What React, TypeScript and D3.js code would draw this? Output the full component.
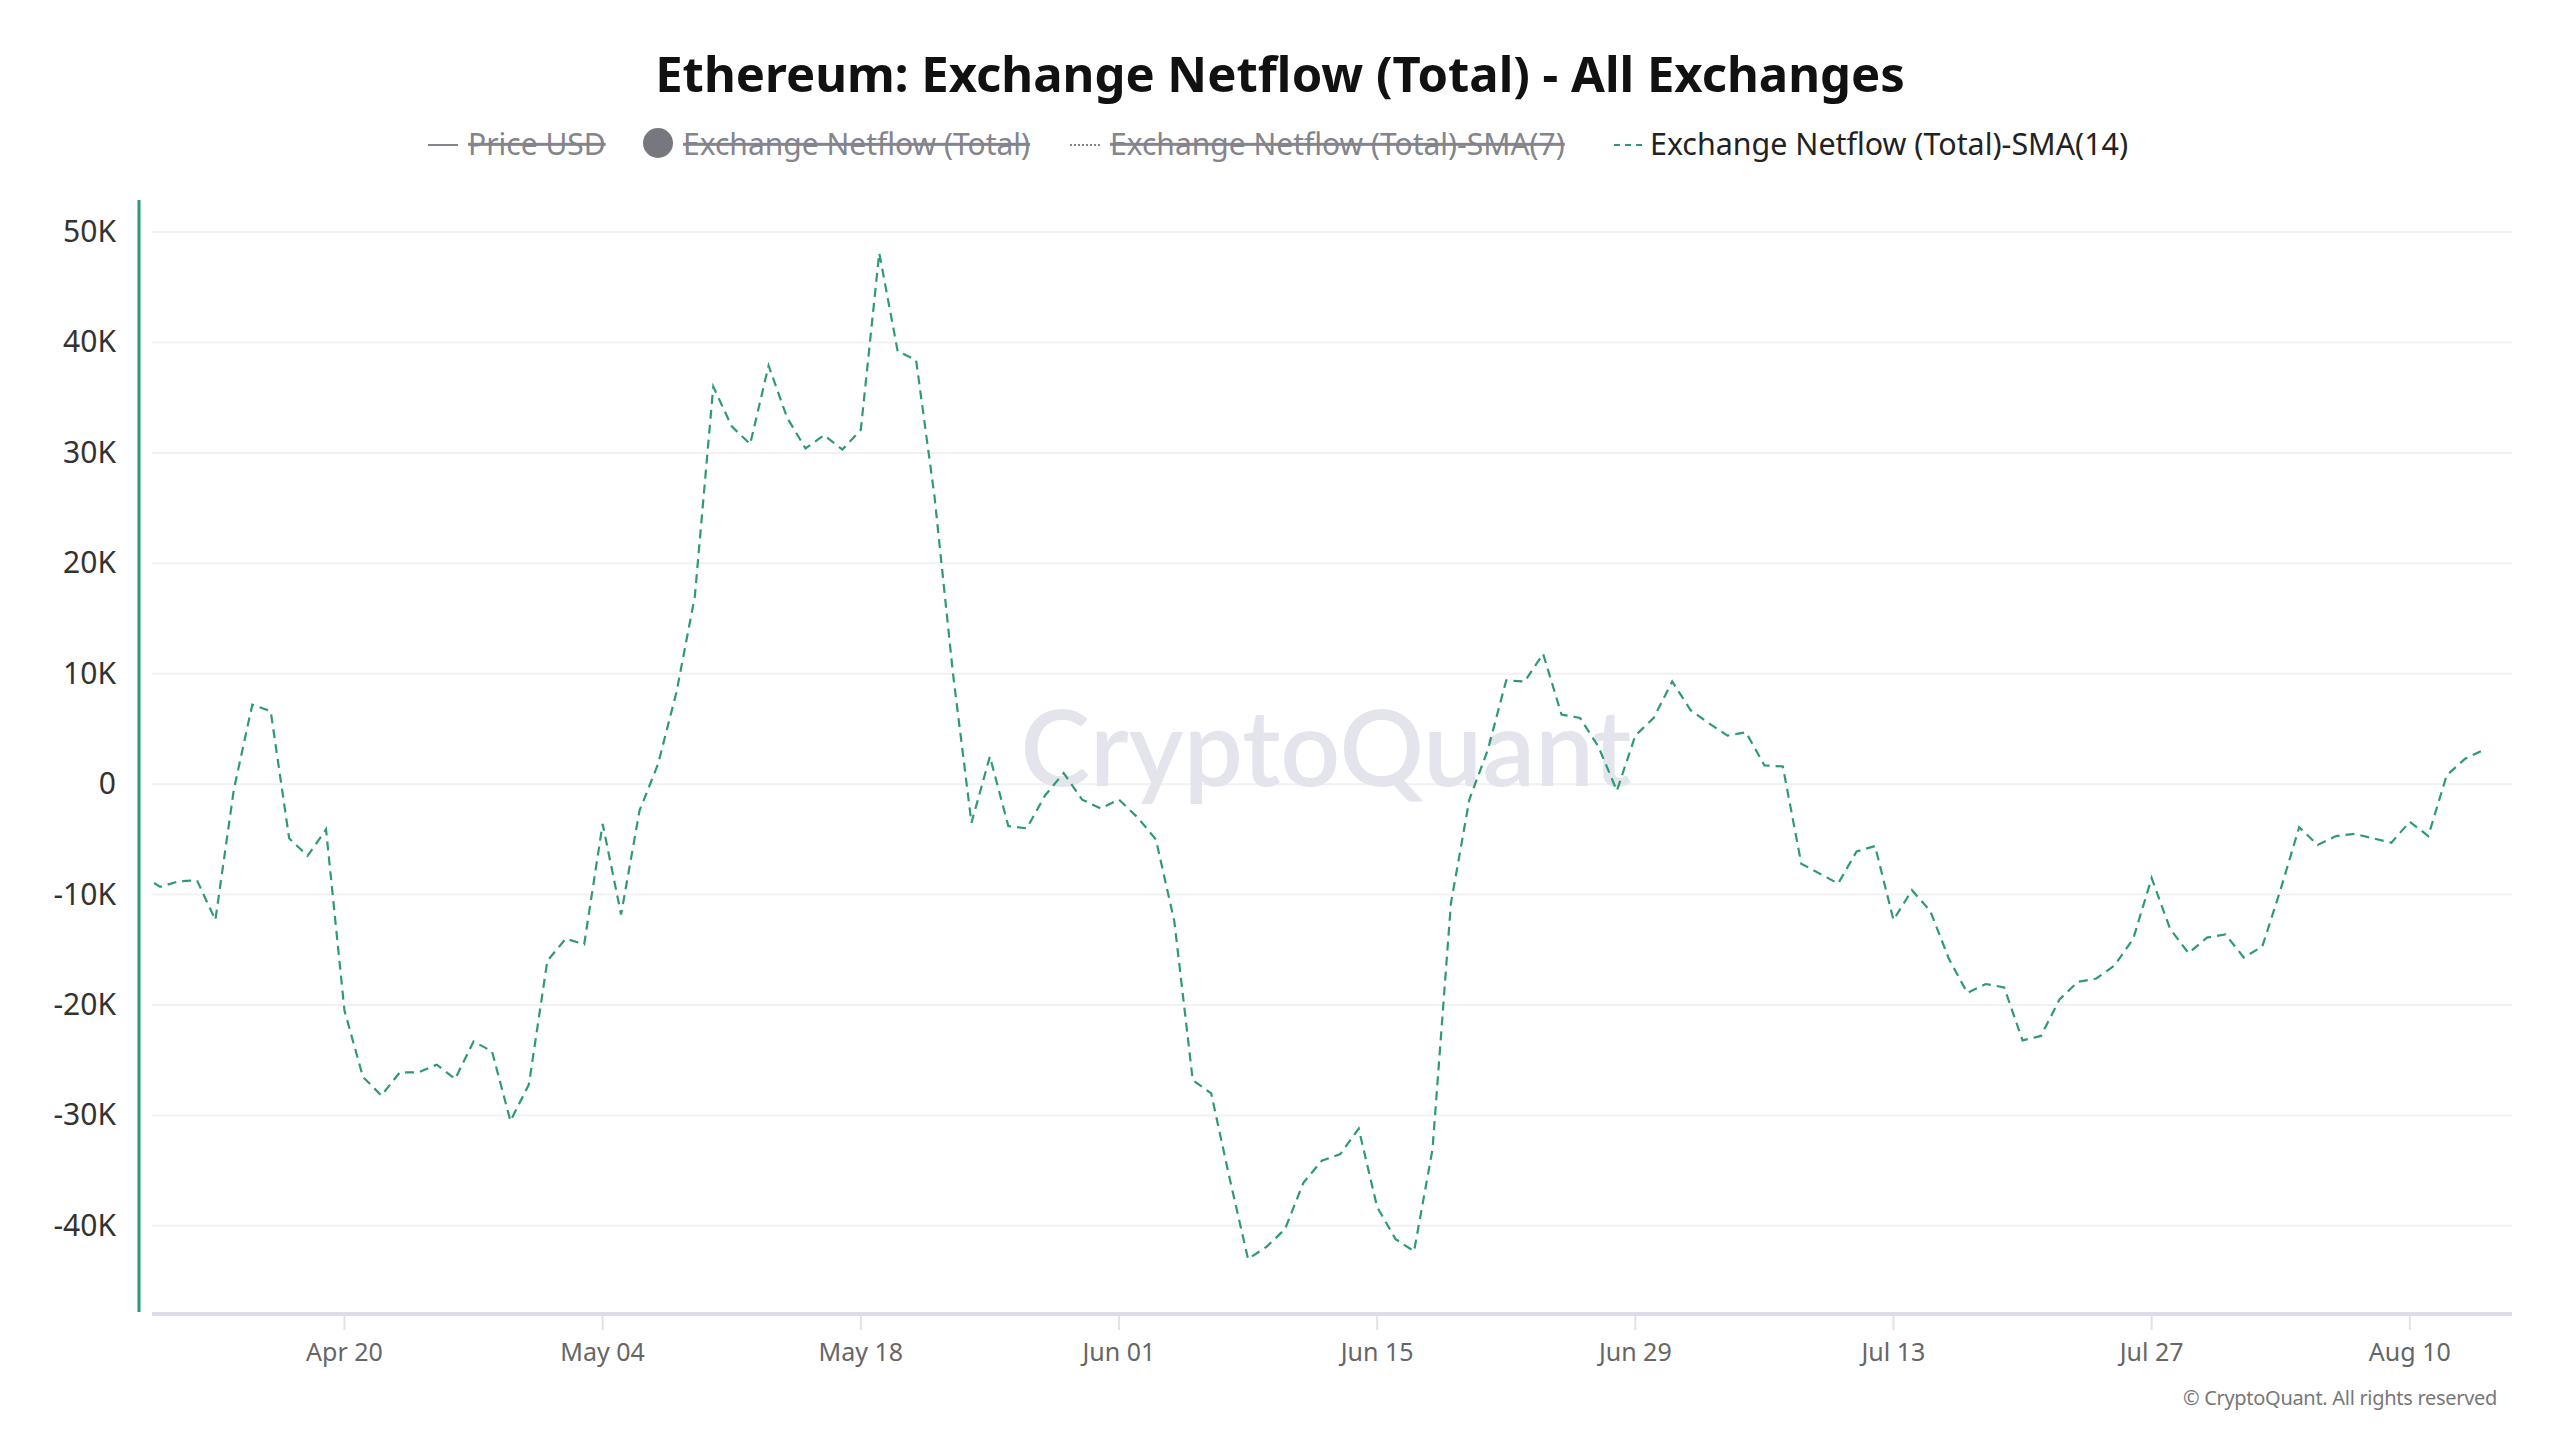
import * as d3 from 'd3';
import React from 'react';

// daily netflow SMA(14), thousands of ETH, starting Apr 9
const startDay = new Date(2025, 3, 9);
const aprValues = [-8.2, -9.3, -8.8, -8.7, -12.3, -0.5, 7.2, 6.6, -4.9, -6.5, -4.1, -20.5, -26.5, -28.2, -26.1, -26.1, -25.4, -26.7, -23.3, -24.2, -30.5, -27.2];
const mayValues = [-16.0, -14.0, -14.5, -3.6, -11.8, -2.4, 1.8, 8.3, 17.0, 36.0, 32.4, 30.8, 37.9, 33.2, 30.4, 31.6, 30.3, 32.1, 48.1, 39.2, 38.4, 26.0, 10.0, -3.5, 2.5, -3.8, -4.0, -1.0, 1.0, -1.4, -2.2];
const junValues = [-1.4, -3.0, -5.0, -12.4, -26.8, -28.0, -35.7, -43.0, -41.9, -40.3, -36.1, -34.1, -33.5, -31.2, -38.3, -41.2, -42.3, -33.1, -10.8, -1.4, 3.1, 9.4, 9.3, 11.8, 6.3, 6.0, 3.4, -0.6, 4.4, 6.0];
const julValues = [9.3, 6.7, 5.5, 4.4, 4.7, 1.7, 1.6, -7.2, -8.1, -9.0, -6.1, -5.6, -12.3, -9.6, -11.5, -15.8, -18.9, -18.1, -18.4, -23.2, -22.8, -19.5, -17.9, -17.6, -16.4, -14.0, -8.5, -13.1, -15.3, -13.9, -13.6];
const augValues = [-15.7, -14.7, -9.5, -3.9, -5.5, -4.7, -4.5, -4.9, -5.3, -3.4, -4.7, 0.8, 2.3, 3.1];

const xTickDates = ['2025-04-20', '2025-05-04', '2025-05-18', '2025-06-01', '2025-06-15', '2025-06-29', '2025-07-13', '2025-07-27', '2025-08-10'];
const yTicks = [-40000, -30000, -20000, -10000, 0, 10000, 20000, 30000, 40000, 50000];

const legendItems = [
  { label: 'Price USD', kind: 'line', active: false },
  { label: 'Exchange Netflow (Total)', kind: 'dot', active: false },
  { label: 'Exchange Netflow (Total)-SMA(7)', kind: 'dots', active: false },
  { label: 'Exchange Netflow (Total)-SMA(14)', kind: 'dash', active: true },
];

type Point = { date: Date; value: number };

const allValues = [...aprValues, ...mayValues, ...junValues, ...julValues, ...augValues];
const data: Point[] = allValues.map((v, i) => ({ date: d3.timeDay.offset(startDay, i), value: v * 1000 }));

const green = '#2e9a72';
const font = '"Noto Sans", "Open Sans", sans-serif';

const App: React.FC = () => {
  const width = 2560;
  const height = 1440;
  const left = 152;
  const right = 2512;
  const top = 200;
  const bottom = 1312;

  const x = d3.scaleTime()
    .domain([new Date(2025, 3, 9, 13, 30), new Date(2025, 7, 15, 13, 0)])
    .range([left, right]);

  const y = d3.scaleLinear()
    .domain([-47800, 52900])
    .range([bottom, top]);

  const line = d3.line<Point>()
    .x(d => x(d.date))
    .y(d => y(d.value));

  const fmtY = (v: number) => (v === 0 ? '0' : `${v / 1000}K`);
  const fmtX = d3.timeFormat('%b %d');
  const parse = d3.timeParse('%Y-%m-%d');

  // legend positions along the row
  const legendX = [428, 643, 1070, 1614];
  const legendTextX = [468, 683, 1110, 1650];
  const legendY = 145;

  return (
    <svg width={width} height={height} style={{ position: 'absolute', left: 0, top: 0, background: '#fff' }} fontFamily={font}>
      <defs>
        <clipPath id="plot">
          <rect x={left} y={top} width={right - left} height={bottom - top} />
        </clipPath>
      </defs>

      <text x={1280} y={92} textAnchor="middle" fontSize={49} fontWeight={700} fill="#111">
        Ethereum: Exchange Netflow (Total) - All Exchanges
      </text>

      {legendItems.map((item, i) => {
        const col = item.active ? '#222' : '#84848c';
        const lx = legendX[i];
        const tx = legendTextX[i];
        return (
          <g key={item.label}>
            {item.kind === 'line' && <line x1={lx} x2={lx + 30} y1={legendY} y2={legendY} stroke={col} strokeWidth={2} />}
            {item.kind === 'dot' && <circle cx={lx + 15} cy={legendY - 2} r={15} fill="#77777f" />}
            {item.kind === 'dots' && <line x1={lx} x2={lx + 30} y1={legendY} y2={legendY} stroke={col} strokeWidth={2} strokeDasharray="2,2" />}
            {item.kind === 'dash' && <line x1={lx} x2={lx + 28} y1={legendY} y2={legendY} stroke={green} strokeWidth={2} strokeDasharray="6,5" />}
            <text x={tx} y={legendY + 10} fontSize={item.active ? 30.4 : 30} fill={col} style={item.active ? undefined : { textDecoration: 'line-through' }}>
              {item.label}
            </text>
          </g>
        );
      })}

      {yTicks.map(t => (
        <g key={t}>
          <line x1={left} x2={right} y1={y(t)} y2={y(t)} stroke="#f1f1f3" strokeWidth={2} />
          <text x={116} y={y(t) + 10} textAnchor="end" fontSize={30} fill="#333">{fmtY(t)}</text>
        </g>
      ))}

      <text x={1326} y={786} textAnchor="middle" fontSize={105} fontWeight={600} fill="#e4e4ec" fontFamily='Lato, "Noto Sans", sans-serif'>
        CryptoQuant
      </text>

      <line x1={left} x2={right} y1={bottom + 2} y2={bottom + 2} stroke="#dcdde8" strokeWidth={4} />
      {xTickDates.map(s => {
        const d = parse(s) as Date;
        return (
          <g key={s}>
            <line x1={x(d)} x2={x(d)} y1={bottom + 4} y2={bottom + 18} stroke="#e2e3ea" strokeWidth={2} />
            <text x={x(d)} y={1361} textAnchor="middle" fontSize={25} fill="#666">{fmtX(d)}</text>
          </g>
        );
      })}

      <line x1={139} x2={139} y1={top} y2={bottom} stroke={green} strokeWidth={3} />

      <path d={line(data) ?? ''} fill="none" stroke={green} strokeWidth={2.2} strokeDasharray="9,6" clipPath="url(#plot)" />

      <text x={2497} y={1405} textAnchor="end" fontSize={20} letterSpacing={-0.3} fill="#777">© CryptoQuant. All rights reserved</text>
    </svg>
  );
};

export default App;
